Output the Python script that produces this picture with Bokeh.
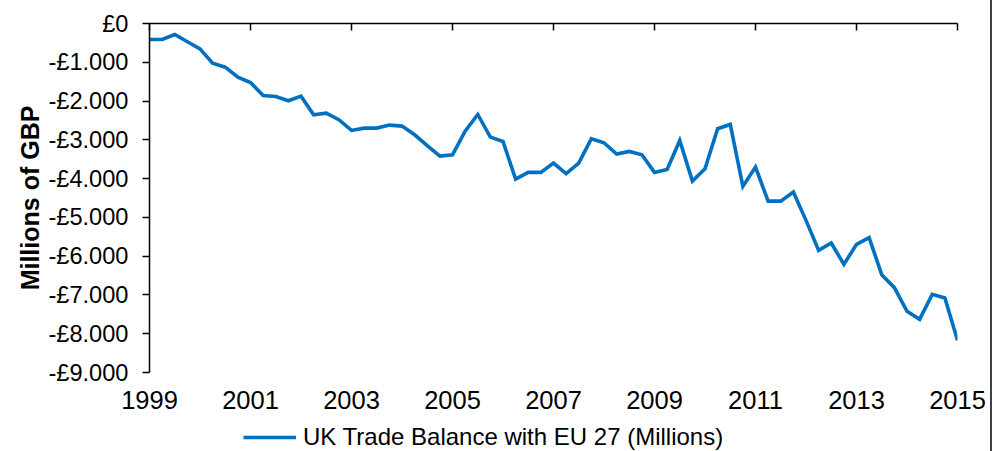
from bokeh.plotting import figure
from bokeh.models import Range1d, LinearAxis, FixedTicker, Legend, LegendItem, Div
from bokeh.layouts import row, column
from bokeh.embed import file_html
from bokeh.resources import INLINE

# quarterly UK trade balance with EU 27 (millions GBP), 1999 Q1 .. 2015 Q1
quarters = [f"{y} Q{q}" for y in range(1999, 2016) for q in range(1, 5)][:65]
balance = [
    -412, -412, -284, -470, -653, -1023, -1126, -1384,
    -1521, -1856, -1881, -1993, -1873, -2353, -2311, -2482,
    -2758, -2698, -2698, -2620, -2646, -2870, -3150, -3420,
    -3384, -2775, -2345, -2930, -3041, -4012, -3840, -3840,
    -3600, -3874, -3600, -2972, -3075, -3368, -3299, -3384,
    -3840, -3763, -3015, -4064, -3745, -2715, -2603, -4201,
    -3703, -4580, -4580, -4348, -5077, -5851, -5662, -6211,
    -5696, -5523, -6477, -6812, -7423, -7629, -6985, -7080,
    -8170,
]
year_ticks = [1999, 2001, 2003, 2005, 2007, 2009, 2011, 2013, 2015]
year_labels = [str(y) for y in year_ticks]
gbp_ticks = [0, -1000, -2000, -3000, -4000, -5000, -6000, -7000, -8000, -9000]
gbp_labels = ["£0", "-£1.000", "-£2.000", "-£3.000", "-£4.000",
              "-£5.000", "-£6.000", "-£7.000", "-£8.000", "-£9.000"]
series_name = "UK Trade Balance with EU 27 (Millions)"
axis_title = "Millions of GBP"

xs = [int(q[:4]) + (int(q[-1]) - 1) / 4 for q in quarters]

FONT = "Liberation Sans"
LINE_COLOR = "#0070C0"

p = figure(width=990, height=421, output_backend="svg", toolbar_location=None,
           x_range=Range1d(1999, 2015), y_range=Range1d(-9000, 0),
           x_axis_location=None, y_axis_location=None,
           min_border_left=149, min_border_right=33,
           min_border_top=23, min_border_bottom=49)
p.outline_line_color = None
p.xgrid.visible = False
p.ygrid.visible = False
p.background_fill_color = "white"
p.border_fill_color = "white"

p.line(xs, balance, line_color=LINE_COLOR, line_width=3.6, line_join="miter")

# left axis
yax = LinearAxis(ticker=FixedTicker(ticks=gbp_ticks))
yax.major_label_overrides = {t: l for t, l in zip(gbp_ticks, gbp_labels)}
yax.major_label_text_font = FONT
yax.major_label_text_font_size = "23.6px"
yax.major_label_text_color = "black"
yax.major_label_standoff = 14
yax.major_tick_in = 0
yax.major_tick_out = 7
yax.major_tick_line_color = "black"
yax.major_tick_line_width = 1.5
yax.minor_tick_line_color = None
yax.axis_line_color = "black"
yax.axis_line_width = 1.5
yax.axis_label = axis_title
yax.axis_label_text_font = FONT
yax.axis_label_text_font_style = "bold"
yax.axis_label_text_font_size = "25px"
yax.axis_label_text_color = "black"
yax.axis_label_standoff = 1
p.add_layout(yax, "left")

# top axis (value zero line with inward ticks)
tax = LinearAxis(ticker=FixedTicker(ticks=year_ticks))
tax.major_label_overrides = {t: "" for t in year_ticks}
tax.major_label_standoff = 0
tax.major_label_text_font_size = "1px"
tax.major_tick_in = 7
tax.major_tick_out = 0
tax.major_tick_line_color = "black"
tax.major_tick_line_width = 1.5
tax.minor_tick_line_color = None
tax.axis_line_color = "black"
tax.axis_line_width = 1.5
p.add_layout(tax, "above")

# bottom labels only
bax = LinearAxis(ticker=FixedTicker(ticks=year_ticks))
bax.major_label_overrides = {t: l for t, l in zip(year_ticks, year_labels)}
bax.major_label_text_font = FONT
bax.major_label_text_font_size = "25.5px"
bax.major_label_text_color = "black"
bax.major_label_standoff = 18
bax.major_tick_in = 0
bax.major_tick_out = 0
bax.major_tick_line_color = None
bax.minor_tick_line_color = None
bax.axis_line_color = None
p.add_layout(bax, "below")

# legend strip (its frame is aligned with the main plot's frame)
lf = figure(width=990, height=30, output_backend="svg", toolbar_location=None,
            x_range=Range1d(0, 1), y_range=Range1d(0, 1),
            x_axis_location=None, y_axis_location=None,
            min_border=0)
lf.outline_line_color = None
lf.xgrid.visible = False
lf.ygrid.visible = False
lr = lf.line([0, 1], [-5, -5], line_color=LINE_COLOR, line_width=3.6)
legend = Legend(items=[LegendItem(label=series_name, renderers=[lr])],
                location=(94, 0), orientation="horizontal",
                glyph_width=53, glyph_height=18, label_height=18,
                label_standoff=7, padding=0, margin=0, spacing=0,
                label_text_font=FONT, label_text_font_size="24px",
                label_text_color="black",
                background_fill_alpha=0, border_line_color=None)
lf.add_layout(legend, "center")

edge = Div(width=2, height=451, margin=0,
           styles={"background-color": "#404040"})

layout = row(column(p, lf, spacing=0), edge, spacing=0)

open("out.html", "w").write(file_html(layout, INLINE))
